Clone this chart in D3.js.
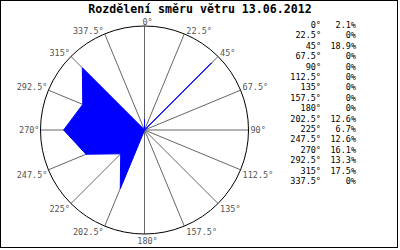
<!DOCTYPE html>
<html>
<head>
<meta charset="utf-8">
<script src="https://cdn.jsdelivr.net/npm/d3@7"></script>
<style>
  body { margin: 0; background: #fff; }
  text { font-family: "DejaVu Sans Mono", monospace; }
</style>
</head>
<body>
<svg id="chart" width="400" height="250"></svg>
<script>
// smery vetru (stupne) a jejich podil v %
const directions = [0, 22.5, 45, 67.5, 90, 112.5, 135, 157.5, 180, 202.5, 225, 247.5, 270, 292.5, 315, 337.5];
const windPct = [2.1, 0, 18.9, 0, 0, 0, 0, 0, 0, 12.6, 6.7, 12.6, 16.1, 13.3, 17.5, 0];
const title = "Rozdělení směru větru 13.06.2012";

const svg = d3.select("#chart");
const cx = 144.5, cy = 130, R = 104;

// ramecek
svg.append("rect")
  .attr("x", 0.5).attr("y", 0.5)
  .attr("width", 397).attr("height", 247)
  .attr("fill", "#fff").attr("stroke", "#000");

// nadpis
svg.append("text")
  .attr("x", 200).attr("y", 13)
  .attr("text-anchor", "middle")
  .attr("font-size", "11.6px")
  .attr("font-weight", "bold")
  .attr("fill", "#000")
  .text(title);

const rad = d => d * Math.PI / 180;
const r = d3.scaleLinear().domain([0, 20.7]).range([0, R]);

const g = svg.append("g").attr("transform", `translate(${cx},${cy})`);

// paprsky
g.selectAll(".spoke")
  .data(directions)
  .enter().append("line")
  .attr("class", "spoke")
  .attr("x1", 0).attr("y1", 0)
  .attr("x2", d => R * Math.sin(rad(d)))
  .attr("y2", d => -R * Math.cos(rad(d)))
  .attr("stroke", "#666")
  .attr("stroke-width", 1);

// kruh
g.append("circle")
  .attr("r", R)
  .attr("fill", "none")
  .attr("stroke", "#000");

// popisky uhlu
g.selectAll(".lbl")
  .data(directions)
  .enter().append("text")
  .attr("class", "lbl")
  .attr("font-size", "8.5px")
  .attr("fill", "#555")
  .attr("text-anchor", d => {
    const s = Math.sin(rad(d));
    return s > 0.01 ? "start" : (s < -0.01 ? "end" : "middle");
  })
  .attr("x", d => {
    const s = Math.sin(rad(d));
    const x = R * s;
    return s > 0.01 ? x + 2 : (s < -0.01 ? x - 1 : x + 3);
  })
  .attr("y", d => {
    const c = Math.cos(rad(d));
    const y = -R * c;
    if (c > 0.99) return y - 1;
    if (c < -0.99) return y + 9.5;
    if (c > 0.01) return y;
    if (c < -0.01) return y + 8.5;
    return y + 3;
  })
  .text(d => d + "°");

// ruzice
const line = d3.lineRadial()
  .angle((d, i) => rad(directions[i]))
  .radius(d => r(d))
  .curve(d3.curveLinearClosed);

g.append("path")
  .datum(windPct)
  .attr("d", line)
  .attr("fill", "#0000ff")
  .attr("stroke", "#0000ff")
  .attr("stroke-width", 1);

// legenda
const leg = svg.append("g").attr("font-size", "8.5px").attr("fill", "#000");
const rowY = i => 28 + i * 10.4;

leg.selectAll(".ldeg")
  .data(directions)
  .enter().append("text")
  .attr("x", 321)
  .attr("y", (d, i) => rowY(i))
  .attr("text-anchor", "end")
  .text(d => d + "°");

leg.selectAll(".lpct")
  .data(windPct)
  .enter().append("text")
  .attr("x", 356)
  .attr("y", (d, i) => rowY(i))
  .attr("text-anchor", "end")
  .text(d => (d === 0 ? "0" : d.toFixed(1)) + "%");
</script>
</body>
</html>
